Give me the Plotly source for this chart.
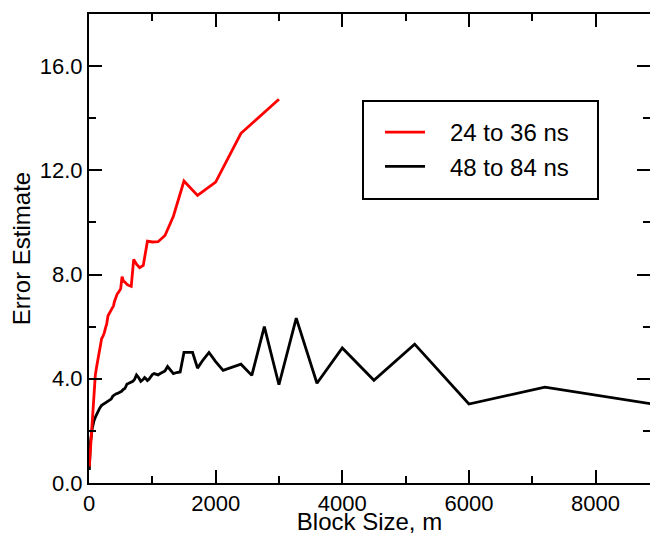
import plotly.graph_objects as go

# block sizes and error estimates
red_x = [5, 20, 40, 60, 80, 100, 120, 150, 171, 200, 218, 240, 261, 279, 300,
         316, 333, 353, 375, 387, 400, 414, 429, 444, 462, 480, 500, 522, 545,
         571, 600, 632, 667, 706, 750, 800, 857, 923, 1000, 1091, 1200, 1333,
         1500, 1714, 2000, 2400, 3000]
red_y = [0.63, 1.20, 1.95, 2.75, 3.65, 4.15, 4.45, 4.85, 5.05, 5.55, 5.62, 5.75,
         5.95, 6.10, 6.42, 6.50, 6.58, 6.62, 6.78, 6.80, 6.95, 7.05, 7.22, 7.25,
         7.30, 7.36, 7.45, 7.92, 7.75, 7.70, 7.62, 7.58, 7.55, 8.58, 8.40, 8.26,
         8.35, 9.28, 9.25, 9.26, 9.50, 10.24, 11.59, 11.04, 11.55, 13.42, 14.73]

black_x = [5, 20, 50, 80, 110, 140, 171, 200, 225, 250, 277, 300, 327, 350, 375,
           400, 424, 450, 480, 514, 545, 563, 581, 600, 621, 643, 667, 692, 720,
           750, 783, 818, 857, 878, 900, 923, 947, 973, 1000, 1029, 1059, 1091,
           1125, 1161, 1200, 1241, 1286, 1333, 1385, 1440, 1500, 1565, 1636,
           1714, 1800, 1895, 2000, 2118, 2250, 2400, 2571, 2769, 3000, 3273,
           3600, 4000, 4500, 5143, 6000, 7200, 9000]
black_y = [0.50, 1.50, 2.08, 2.40, 2.58, 2.74, 2.88, 2.98, 3.02, 3.07, 3.10, 3.14,
           3.17, 3.22, 3.33, 3.38, 3.42, 3.44, 3.47, 3.52, 3.60, 3.62, 3.70, 3.80,
           3.82, 3.84, 3.86, 3.90, 3.98, 4.15, 4.05, 3.90, 3.98, 4.05, 4.00, 3.93,
           3.98, 4.08, 4.16, 4.20, 4.17, 4.15, 4.20, 4.26, 4.30, 4.47, 4.33, 4.20,
           4.24, 4.26, 5.01, 5.01, 5.01, 4.41, 4.72, 5.01, 4.66, 4.32, 4.44, 4.56,
           4.13, 6.00, 3.77, 6.33, 3.83, 5.18, 3.94, 5.33, 3.03, 3.68, 2.99]

series_names = ["24 to 36 ns", "48 to 84 ns"]

font = "Liberation Sans, Arial, Helvetica, sans-serif"
pad = "\u00a0\u00a0\u00a0"  # push legend text away from the line sample

fig = go.Figure()
fig.add_trace(go.Scatter(x=black_x, y=black_y, mode="lines", name=pad + series_names[1],
                         line=dict(color="black", width=2.8), legendrank=2))
fig.add_trace(go.Scatter(x=red_x, y=red_y, mode="lines", name=pad + series_names[0],
                         line=dict(color="#ff0000", width=2.8), legendrank=1))

axis_common = dict(
    showline=True, linecolor="black", linewidth=2, mirror="ticks",
    ticks="inside", ticklen=13, tickwidth=2, tickcolor="black",
    showgrid=False, zeroline=False, automargin=False,
    tickfont=dict(family=font, size=22, color="black"),
)

fig.update_xaxes(range=[0, 8860], dtick=2000, tick0=0,
                 minor=dict(ticks="inside", ticklen=7, tickwidth=2,
                            tickcolor="black", dtick=1000),
                 title=dict(text="Block Size, m", standoff=2,
                            font=dict(family=font, size=24, color="black")),
                 **axis_common)
fig.update_yaxes(range=[0, 18], dtick=4, tick0=0, tickformat=".1f",
                 minor=dict(ticks="inside", ticklen=7, tickwidth=2,
                            tickcolor="black", dtick=2),
                 title=dict(text="Error Estimate", standoff=2,
                            font=dict(family=font, size=24, color="black")),
                 **axis_common)

# legend frame (drawn as a box so the legend entries can sit inset like the original)
fig.add_shape(type="rect", xref="paper", yref="paper",
              x0=0.4884, x1=0.9073, y0=0.6055, y1=0.8145,
              line=dict(color="black", width=2), fillcolor="white", layer="above")

fig.update_layout(
    width=650, height=535,
    margin=dict(l=89, r=0, t=14, b=52),
    plot_bgcolor="white", paper_bgcolor="white",
    font=dict(family=font, color="black"),
    legend=dict(x=0.5187, y=0.7953, xanchor="left", yanchor="top",
                bgcolor="rgba(0,0,0,0)", borderwidth=0,
                font=dict(family=font, size=24, color="black"),
                itemwidth=40, tracegroupgap=10, traceorder="normal"),
)

# drop the default 8px body margin so the figure fills the window exactly
fig.write_html("out.html", config={"displayModeBar": False},
               post_script="document.body.style.margin='0';")
